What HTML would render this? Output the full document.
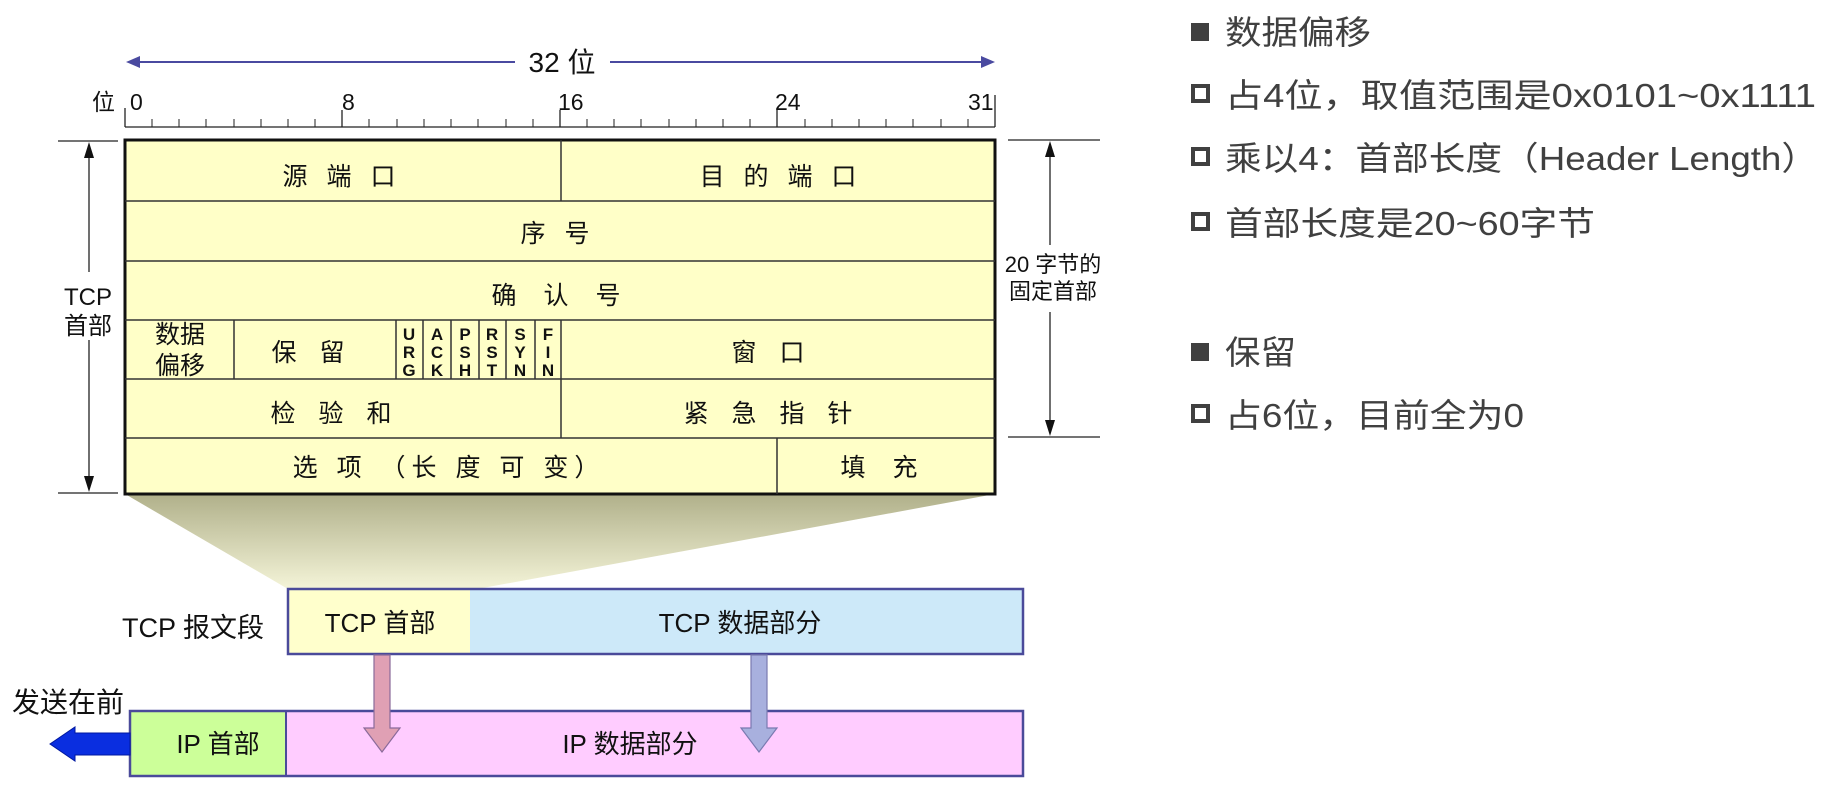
<!DOCTYPE html>
<html><head><meta charset="utf-8"><style>
html,body{margin:0;padding:0;background:#fff;}
svg{display:block}
.t{font-family:"Liberation Sans","Noto Sans CJK SC",sans-serif;fill:#111;}
.r{font-family:"Liberation Sans","Noto Sans CJK SC",sans-serif;fill:#404040;font-size:33px;}
</style></head><body>
<svg width="1836" height="790" viewBox="0 0 1836 790" xmlns="http://www.w3.org/2000/svg">
<defs>
<linearGradient id="g" x1="0" y1="0" x2="0" y2="1">
<stop offset="0" stop-color="#b0b08a"/><stop offset="1" stop-color="#f4f4d8"/>
</linearGradient>
</defs>
<polygon points="125,494 995,494 477,589 288,589" fill="url(#g)"/>
<line x1="135" y1="62" x2="515" y2="62" stroke="#4a4aa0" stroke-width="2"/>
<line x1="610" y1="62" x2="985" y2="62" stroke="#4a4aa0" stroke-width="2"/>
<polygon points="126,62 140,56 140,68" fill="#4a4aa0"/>
<polygon points="995,62 981,56 981,68" fill="#4a4aa0"/>
<text class="t" x="562" y="72" font-size="28" text-anchor="middle">32 位</text>
<g stroke="#222" stroke-width="1.3">
<line x1="125" y1="127" x2="995" y2="127"/>
<line x1="125" y1="108" x2="125" y2="127"/>
<line x1="342" y1="110" x2="342" y2="127"/>
<line x1="560" y1="110" x2="560" y2="127"/>
<line x1="777" y1="110" x2="777" y2="127"/>
<line x1="995" y1="95" x2="995" y2="127"/>
</g>
<g stroke="#222" stroke-width="1">
<path d="M152 119V127M179 119V127M206 119V127M234 119V127M261 119V127M288 119V127M315 119V127M369 119V127M397 119V127M424 119V127M451 119V127M478 119V127M506 119V127M533 119V127M587 119V127M614 119V127M641 119V127M669 119V127M696 119V127M723 119V127M750 119V127M805 119V127M832 119V127M859 119V127M886 119V127M913 119V127M941 119V127M968 119V127"/>
</g>
<g class="t" font-size="23">
<text x="92" y="110">位</text>
<text x="130" y="110">0</text>
<text x="342" y="110">8</text>
<text x="558" y="110">16</text>
<text x="775" y="110">24</text>
<text x="968" y="110">31</text>
</g>
<rect x="125" y="140" width="870" height="354" fill="#ffffc8" stroke="#111" stroke-width="3"/>
<g stroke="#333" stroke-width="1.5">
<line x1="125" y1="201" x2="995" y2="201"/>
<line x1="125" y1="261" x2="995" y2="261"/>
<line x1="125" y1="320" x2="995" y2="320"/>
<line x1="125" y1="379" x2="995" y2="379"/>
<line x1="125" y1="438" x2="995" y2="438"/>
<line x1="561" y1="140" x2="561" y2="201"/>
<line x1="561" y1="320" x2="561" y2="438"/>
<line x1="777" y1="438" x2="777" y2="494"/>
<line x1="234" y1="320" x2="234" y2="379"/>
<line x1="396" y1="320" x2="396" y2="379"/>
<line x1="423" y1="320" x2="423" y2="379"/>
<line x1="451" y1="320" x2="451" y2="379"/>
<line x1="479" y1="320" x2="479" y2="379"/>
<line x1="506" y1="320" x2="506" y2="379"/>
<line x1="535" y1="320" x2="535" y2="379"/>
</g>
<g class="t" font-size="25" text-anchor="middle">
<text x="342" y="185" letter-spacing="6">源 端 口</text>
<text x="781" y="185" letter-spacing="6">目 的 端 口</text>
<text x="558" y="242" letter-spacing="6">序 号</text>
<text x="561" y="304" letter-spacing="10">确 认 号</text>
<text x="180" y="343">数据</text>
<text x="180" y="374">偏移</text>
<text x="312" y="361" letter-spacing="8">保 留</text>
<text x="772" y="361" letter-spacing="8">窗 口</text>
<text x="335" y="422" letter-spacing="8">检 验 和</text>
<text x="772" y="422" letter-spacing="8">紧 急 指 针</text>
<text x="449" y="476" letter-spacing="6">选 项 （长 度 可 变）</text>
<text x="884" y="476" letter-spacing="10">填 充</text>
</g>
<g class="t" font-size="17" font-weight="bold" text-anchor="middle">
<text x="409" y="340">U</text><text x="409" y="358">R</text><text x="409" y="376">G</text>
<text x="437" y="340">A</text><text x="437" y="358">C</text><text x="437" y="376">K</text>
<text x="465" y="340">P</text><text x="465" y="358">S</text><text x="465" y="376">H</text>
<text x="492" y="340">R</text><text x="492" y="358">S</text><text x="492" y="376">T</text>
<text x="520" y="340">S</text><text x="520" y="358">Y</text><text x="520" y="376">N</text>
<text x="548" y="340">F</text><text x="548" y="358">I</text><text x="548" y="376">N</text>
</g>
<g stroke="#222" stroke-width="1.3">
<line x1="58" y1="141" x2="118" y2="141"/>
<line x1="58" y1="493" x2="118" y2="493"/>
<line x1="89" y1="150" x2="89" y2="272"/>
<line x1="89" y1="340" x2="89" y2="484"/>
</g>
<polygon points="89,142 84,158 94,158" fill="#111"/>
<polygon points="89,492 84,476 94,476" fill="#111"/>
<g class="t" font-size="24" text-anchor="middle">
<text x="88" y="305">TCP</text><text x="88" y="334">首部</text>
</g>
<g stroke="#222" stroke-width="1.3">
<line x1="1008" y1="140" x2="1100" y2="140"/>
<line x1="1008" y1="437" x2="1100" y2="437"/>
<line x1="1050" y1="150" x2="1050" y2="245"/>
<line x1="1050" y1="312" x2="1050" y2="428"/>
</g>
<polygon points="1050,141 1045,157 1055,157" fill="#111"/>
<polygon points="1050,436 1045,420 1055,420" fill="#111"/>
<g class="t" font-size="22" text-anchor="middle">
<text x="1053" y="272">20 字节的</text><text x="1053" y="299">固定首部</text>
</g>
<rect x="288" y="589" width="182" height="65" fill="#ffffcc"/>
<rect x="470" y="589" width="553" height="65" fill="#cde9f9"/>
<rect x="288" y="589" width="735" height="65" fill="none" stroke="#4a4a9a" stroke-width="2.5"/>
<g class="t" font-size="26" text-anchor="middle">
<text x="193" y="637" font-size="27">TCP 报文段</text>
<text x="380" y="632">TCP 首部</text>
<text x="740" y="632">TCP 数据部分</text>
</g>
<rect x="130" y="711" width="156" height="65" fill="#ccff99"/>
<rect x="286" y="711" width="737" height="65" fill="#ffccff"/>
<rect x="130" y="711" width="893" height="65" fill="none" stroke="#4a4a9a" stroke-width="2.5"/>
<line x1="286" y1="711" x2="286" y2="776" stroke="#4a4a9a" stroke-width="2"/>
<g class="t" font-size="26" text-anchor="middle">
<text x="218" y="753">IP 首部</text>
<text x="630" y="753">IP 数据部分</text>
</g>
<polygon points="374,655 390,655 390,728 400,728 382,752 364,728 374,728" fill="#e0a0b4" stroke="#8a6a9a" stroke-width="1.2"/>
<polygon points="751,655 767,655 767,728 777,728 759,752 741,728 751,728" fill="#a8b0de" stroke="#7a7ab0" stroke-width="1.2"/>
<polygon points="130,733 75,733 75,727 50,744 75,761 75,755 130,755" fill="#0a2ee0" stroke="#0018a0" stroke-width="1"/>
<text class="t" x="68" y="712" font-size="28" text-anchor="middle">发送在前</text>
<rect x="1191" y="23" width="18" height="18" fill="#404040"/>
<text class="r" x="1225" y="44" textLength="146" lengthAdjust="spacingAndGlyphs">数据偏移</text>
<rect x="1193" y="86" width="15" height="15" fill="none" stroke="#404040" stroke-width="4"/>
<text class="r" x="1225" y="107" textLength="591" lengthAdjust="spacingAndGlyphs">占4位，取值范围是0x0101~0x1111</text>
<rect x="1193" y="149" width="15" height="15" fill="none" stroke="#404040" stroke-width="4"/>
<text class="r" x="1225" y="170" textLength="593" lengthAdjust="spacingAndGlyphs">乘以4：首部长度（Header Length）</text>
<rect x="1193" y="214" width="15" height="15" fill="none" stroke="#404040" stroke-width="4"/>
<text class="r" x="1225" y="235" textLength="370" lengthAdjust="spacingAndGlyphs">首部长度是20~60字节</text>
<rect x="1191" y="343" width="18" height="18" fill="#404040"/>
<text class="r" x="1225" y="364" textLength="71" lengthAdjust="spacingAndGlyphs">保留</text>
<rect x="1193" y="406" width="15" height="15" fill="none" stroke="#404040" stroke-width="4"/>
<text class="r" x="1225" y="427" textLength="299" lengthAdjust="spacingAndGlyphs">占6位，目前全为0</text>
</svg>
</body></html>
